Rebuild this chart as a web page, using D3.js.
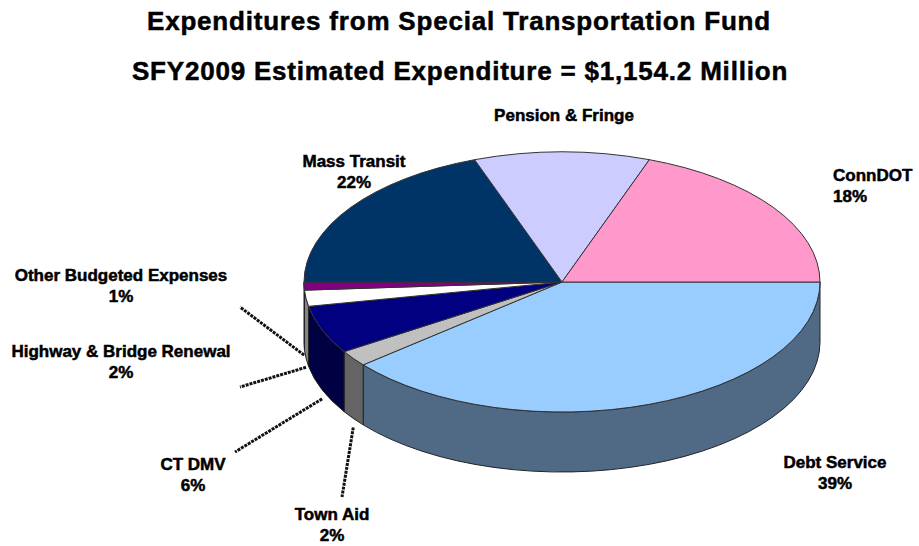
<!DOCTYPE html>
<html>
<head>
<meta charset="utf-8">
<script src="https://cdnjs.cloudflare.com/ajax/libs/d3/7.8.5/d3.min.js"></script>
<style>
  body { margin: 0; background: #fff; }
  text { font-family: "Liberation Sans", Arial, sans-serif; font-weight: bold; fill: #000; stroke: #000; stroke-width: 0.5px; }
</style>
</head>
<body>
<script>
// ---------------- data ----------------
var categories = ["Debt Service", "Town Aid", "CT DMV", "Highway & Bridge Renewal",
                  "Other Budgeted Expenses", "Mass Transit", "Pension & Fringe", "ConnDOT"];
// share of the pie as drawn (percent)
var shares = [39, 2, 6, 2, 1, 19.5, 11, 19.5];
// percentages printed on the labels
var pctLabels = ["39%", "2%", "6%", "2%", "1%", "22%", "", "18%"];

var title = "Expenditures from Special Transportation Fund";
var subtitle = "SFY2009 Estimated Expenditure = $1,154.2 Million";

// ---------------- styles / layout ----------------
var colors = ["#99ccff", "#c0c0c0", "#000080", "#ffffff", "#800080", "#003366", "#ccccff", "#ff99cc"];
var wallShade = 0.52;

// label positions (x, first baseline, anchor) and leader-line label end
var labelPos = {
    "Debt Service":              {x: 835, y: 468, anchor: "middle"},
    "Town Aid":                  {x: 332, y: 520, anchor: "middle", lx: 342, ly: 497},
    "CT DMV":                    {x: 193, y: 470, anchor: "middle", lx: 235, ly: 452},
    "Highway & Bridge Renewal":  {x: 121, y: 357, anchor: "middle", lx: 240, ly: 387},
    "Other Budgeted Expenses":   {x: 121, y: 281, anchor: "middle", lx: 240, ly: 307},
    "Mass Transit":              {x: 354, y: 167, anchor: "middle"},
    "Pension & Fringe":          {x: 564, y: 121, anchor: "middle"},
    "ConnDOT":                   {x: 833, y: 181, anchor: "start"}
};

var width = 919, height = 546;
var cx = 562, cy = 282, rx = 258, ry = 130, depth = 60;

function pt(a, dy) {
    return [cx + rx * Math.cos(a), cy + ry * Math.sin(a) + (dy || 0)];
}

function shade(c) {
    var r = d3.rgb(c);
    return d3.rgb(r.r * wallShade, r.g * wallShade, r.b * wallShade).toString();
}

var svg = d3.select("body")
    .append("svg")
        .attr("width", width)
        .attr("height", height);

// titles
svg.append("text")
    .attr("x", 459).attr("y", 30)
    .attr("text-anchor", "middle")
    .style("font-size", "26px")
    .style("letter-spacing", "0.8px")
    .text(title);

svg.append("text")
    .attr("x", 460).attr("y", 80)
    .attr("text-anchor", "middle")
    .style("font-size", "26px")
    .style("letter-spacing", "0.8px")
    .text(subtitle);

// -------------------------- pie angles ---------------
var data = categories.map(function(c, i) { return {name: c, share: shares[i], color: colors[i], pct: pctLabels[i]}; });

var pie = d3.pie()
    .sort(null)
    .value(function(d) { return d.share; })
    .startAngle(Math.PI / 2)
    .endAngle(Math.PI / 2 + 2 * Math.PI);

var arcs = pie(data).map(function(d) {
    d.a0 = d.startAngle - Math.PI / 2;   // 0 = 3 o'clock, clockwise on screen
    d.a1 = d.endAngle - Math.PI / 2;
    d.mid = (d.a0 + d.a1) / 2;
    return d;
});

// outer walls (front half only)
arcs.forEach(function(d) {
    var s = Math.max(d.a0, 0), e = Math.min(d.a1, Math.PI);
    if (e <= s) return;
    var p0 = pt(s), p1 = pt(e), q1 = pt(e, depth), q0 = pt(s, depth);
    var path = "M" + p0 + " A" + rx + "," + ry + " 0 0 1 " + p1 +
               " L" + q1 + " A" + rx + "," + ry + " 0 0 0 " + q0 + " Z";
    svg.append("path")
        .attr("d", path)
        .style("fill", shade(d.data.color))
        .style("stroke", "#222")
        .style("stroke-width", 1);
});

// top faces
arcs.forEach(function(d) {
    var p0 = pt(d.a0), p1 = pt(d.a1);
    var large = (d.a1 - d.a0) > Math.PI ? 1 : 0;
    var path = "M" + cx + "," + cy + " L" + p0 + " A" + rx + "," + ry + " 0 " + large + " 1 " + p1 + " Z";
    svg.append("path")
        .attr("d", path)
        .style("fill", d.data.color)
        .style("stroke", "#333")
        .style("stroke-width", 1);
});

// leader lines
arcs.forEach(function(d) {
    var lp = labelPos[d.data.name];
    if (lp.lx === undefined) return;
    var p = pt(d.mid, depth + 9);
    svg.append("line")
        .attr("x1", p[0]).attr("y1", p[1])
        .attr("x2", lp.lx).attr("y2", lp.ly)
        .style("stroke", "#111")
        .style("stroke-width", 3)
        .style("stroke-dasharray", "3,1");
});

// labels
arcs.forEach(function(d) {
    var lp = labelPos[d.data.name];
    var t = svg.append("text")
        .attr("x", lp.x).attr("y", lp.y)
        .attr("text-anchor", lp.anchor)
        .style("font-size", "17px");
    t.append("tspan").attr("x", lp.x).text(d.data.name);
    if (d.data.pct) t.append("tspan").attr("x", lp.x).attr("dy", 21).text(d.data.pct);
});
</script>
</body>
</html>
